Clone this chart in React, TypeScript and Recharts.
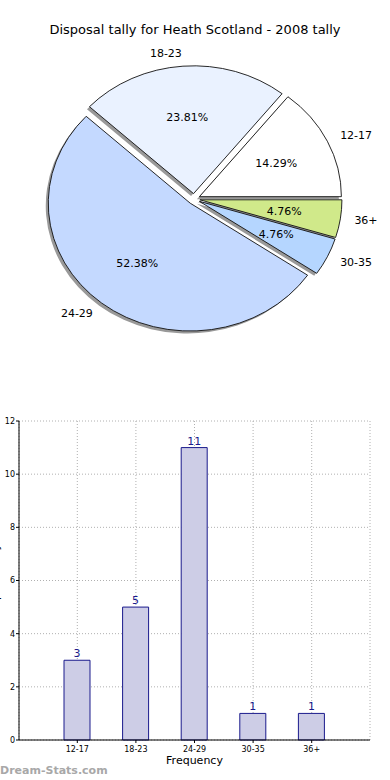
import { PieChart, Pie, Cell, BarChart, Bar, XAxis, YAxis, CartesianGrid, LabelList } from 'recharts';

const ageGroups = ['12-17', '18-23', '24-29', '30-35', '36+'];
const disposals = [3, 5, 11, 1, 1];
const yTicks = [0, 2, 4, 6, 8, 10, 12];

const sliceColors = ['#ffffff', '#eaf2ff', '#c4d9ff', '#b5d6ff', '#d0e98a'];
const FONT = '"DejaVu Sans", Verdana, sans-serif';

// pie is drawn slightly squashed, like the original
const RX = 142;
const RY_RATIO = 0.9;
const EXPLODE = 6;

function ellipseSector(cx: number, cy: number, a0: number, a1: number) {
  const r0 = (a0 * Math.PI) / 180;
  const r1 = (a1 * Math.PI) / 180;
  const ry = RX * RY_RATIO;
  const x0 = cx + RX * Math.cos(r0);
  const y0 = cy - ry * Math.sin(r0);
  const x1 = cx + RX * Math.cos(r1);
  const y1 = cy - ry * Math.sin(r1);
  const large = Math.abs(a1 - a0) > 180 ? 1 : 0;
  return `M${cx},${cy} L${x0},${y0} A${RX},${ry} 0 ${large} 0 ${x1},${y1} Z`;
}

function explodedCenter(cx: number, cy: number, startAngle: number, endAngle: number) {
  const mid = (((startAngle + endAngle) / 2) * Math.PI) / 180;
  return [cx + EXPLODE * Math.cos(mid), cy - EXPLODE * RY_RATIO * Math.sin(mid)];
}

const SliceShape = (props: any) => {
  const { cx, cy, startAngle, endAngle, fill } = props;
  const [ex, ey] = explodedCenter(cx, cy, startAngle, endAngle);
  return <path d={ellipseSector(ex, ey, startAngle, endAngle)} fill={fill} stroke="#111" strokeWidth={0.9} />;
};

const ShadowShape = (props: any) => {
  const { cx, cy, startAngle, endAngle } = props;
  const [ex, ey] = explodedCenter(cx, cy, startAngle, endAngle);
  return <path d={ellipseSector(ex - 2.5, ey + 2.5, startAngle, endAngle)} fill="#999" stroke="none" />;
};

const renderPieLabel = (props: any) => {
  const { cx, cy, midAngle, percent, name } = props;
  const a = (midAngle * Math.PI) / 180;
  const c = Math.cos(a);
  const s = Math.sin(a);
  const ex = cx + EXPLODE * c;
  const ey = cy - EXPLODE * RY_RATIO * s;
  return (
    <g>
      <text x={ex + 0.6 * RX * c} y={ey - 0.6 * RX * RY_RATIO * s} textAnchor="middle" dominantBaseline="central" fontSize={11} fontFamily={FONT} fill="#000">
        {(percent * 100).toFixed(2)}%
      </text>
      <text x={ex + 1.1 * RX * c} y={ey - 1.1 * RX * RY_RATIO * s} textAnchor={c > 0 ? 'start' : 'end'} dominantBaseline="central" fontSize={11} fontFamily={FONT} fill="#000">
        {name}
      </text>
    </g>
  );
};

// y label sits mostly outside the picture, as in the original
const renderYLabel = (props: any) => {
  const { viewBox } = props;
  const x = viewBox.x - 6;
  const y = viewBox.y + viewBox.height / 2;
  return (
    <text x={x} y={y} transform={`rotate(-90 ${x} ${y})`} textAnchor="middle" fontSize={11} fontFamily={FONT} fill="#000">
      Disposal tally
    </text>
  );
};

export default function App() {
  const pieData = ageGroups.map((name, i) => ({ name, value: disposals[i] }));
  const barData = ageGroups.map((group, i) => ({ group, count: disposals[i] }));

  return (
    <div style={{ position: 'absolute', left: 0, top: 0, width: 390, height: 780, background: '#fff', fontFamily: FONT }}>
      <div style={{ position: 'absolute', left: 0, top: 22, width: 390, textAlign: 'center', fontSize: 13, color: '#000' }}>
        Disposal tally for Heath Scotland - 2008 tally
      </div>

      <div style={{ position: 'absolute', left: 0, top: 0 }}>
        <PieChart width={390} height={360} margin={{ top: 0, right: 0, bottom: 0, left: 0 }}>
          <Pie
            data={pieData}
            dataKey="value"
            cx={194}
            cy={199}
            outerRadius={RX}
            startAngle={0}
            endAngle={360}
            shape={ShadowShape}
            activeShape={ShadowShape}
            inactiveShape={ShadowShape}
            label={false}
            labelLine={false}
            isAnimationActive={false}
          />
          <Pie
            data={pieData}
            dataKey="value"
            cx={194}
            cy={199}
            outerRadius={RX}
            startAngle={0}
            endAngle={360}
            shape={SliceShape}
            activeShape={SliceShape}
            inactiveShape={SliceShape}
            label={renderPieLabel}
            labelLine={false}
            isAnimationActive={false}
          >
            {pieData.map((d, i) => (
              <Cell key={d.name} fill={sliceColors[i]} />
            ))}
          </Pie>
        </PieChart>
      </div>

      <div style={{ position: 'absolute', left: 0, top: 360 }}>
        <BarChart width={390} height={420} data={barData} margin={{ top: 61, right: 20, bottom: 10, left: 5 }}>
          <CartesianGrid stroke="#b0b0b0" strokeDasharray="1 2" />
          <XAxis
            dataKey="group"
            height={30}
            padding={{ left: 29, right: 29 }}
            tick={{ fontSize: 8, fill: '#000', fontFamily: FONT }}
            tickSize={3}
            tickMargin={3}
            axisLine={{ stroke: '#000' }}
            tickLine={{ stroke: '#000' }}
            label={{ value: 'Frequency', position: 'insideBottom', offset: 6, fontSize: 11, fill: '#000', fontFamily: FONT }}
          />
          <XAxis xAxisId="top" orientation="top" dataKey="group" height={0} tick={false} tickLine={false} axisLine={{ stroke: '#000' }} />
          <YAxis
            width={14}
            domain={[0, 12]}
            ticks={yTicks}
            tick={{ fontSize: 8, fill: '#000', fontFamily: FONT }}
            tickSize={3}
            tickMargin={1}
            axisLine={{ stroke: '#000' }}
            tickLine={{ stroke: '#000' }}
            label={renderYLabel}
          />
          <YAxis yAxisId="right" orientation="right" width={0} tick={false} tickLine={false} axisLine={{ stroke: '#000' }} />
          <Bar dataKey="count" barSize={26} fill="#cdcde6" stroke="#1a1a8c" strokeWidth={1} isAnimationActive={false}>
            <LabelList dataKey="count" position="top" offset={3} fontSize={11} fill="#1a1a8c" fontFamily={FONT} />
          </Bar>
        </BarChart>
      </div>

      <div style={{ position: 'absolute', left: 0, top: 764, fontSize: 11, fontWeight: 'bold', color: '#a8a8a8' }}>
        Dream-Stats.com
      </div>
    </div>
  );
}
